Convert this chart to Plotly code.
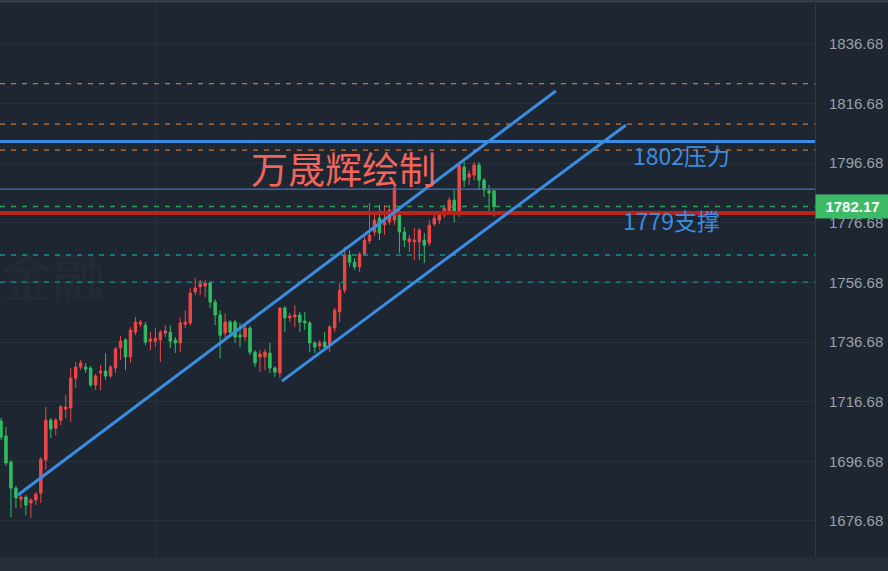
import plotly.graph_objects as go

# ---------------- data ----------------
bar_index = list(range(100))
opens = [1710.2,1705.2,1696.4,1687.7,1684.0,1684.7,1682.7,1683.7,1686.0,1697.1,
         1710.5,1707.8,1710.5,1714.2,1714.6,1724.6,1728.3,1728.3,1728.0,1722.3,
         1726.3,1727.0,1725.3,1728.0,1734.7,1737.4,1731.7,1740.0,1742.7,1742.4,
         1737.0,1737.0,1737.4,1739.7,1740.0,1737.4,1736.4,1742.7,1743.1,1753.5,
         1755.2,1755.5,1756.5,1750.1,1745.8,1739.7,1743.4,1743.4,1739.0,1738.4,
         1741.4,1733.3,1731.7,1731.7,1733.0,1728.0,1726.3,1748.1,1744.8,1745.1,
         1745.8,1743.7,1743.1,1736.4,1735.4,1736.7,1735.7,1741.4,1746.8,1754.1,
         1765.9,1763.5,1761.9,1766.2,1770.6,1773.6,1778.3,1776.0,1777.0,1777.6,
         1780.3,1773.6,1770.3,1770.3,1770.3,1770.9,1769.9,1776.3,1777.6,1779.3,
         1780.3,1784.3,1780.0,1795.4,1792.0,1792.7,1796.1,1791.0,1787.4,1787.4]
highs = [1711.2,1708.2,1697.1,1688.4,1685.4,1685.4,1684.4,1686.4,1698.1,1714.9,
         1711.2,1711.2,1715.6,1718.9,1728.0,1730.0,1730.7,1729.7,1728.6,1726.0,
         1729.0,1733.0,1729.0,1735.0,1738.8,1738.0,1741.7,1745.1,1744.1,1743.4,
         1740.0,1741.4,1740.7,1742.4,1742.4,1738.4,1744.8,1747.4,1754.8,1758.2,
         1757.5,1757.5,1757.2,1751.1,1747.4,1746.4,1744.1,1744.1,1743.1,1742.1,
         1742.1,1734.0,1734.0,1734.3,1736.4,1728.6,1748.4,1748.8,1746.4,1749.1,
         1746.8,1746.8,1743.7,1737.0,1737.4,1740.0,1742.4,1748.1,1756.5,1768.6,
         1767.6,1764.9,1766.9,1772.6,1783.3,1780.3,1782.7,1782.7,1782.7,1790.0,
         1781.0,1775.3,1772.6,1774.9,1774.9,1773.3,1777.6,1779.3,1780.3,1782.7,
         1785.3,1787.7,1797.1,1797.1,1794.4,1797.1,1797.1,1791.7,1789.4,1787.7]
lows = [1703.8,1695.1,1678.0,1681.0,1681.0,1678.6,1677.6,1682.0,1682.7,1693.8,
        1704.5,1705.5,1708.8,1711.2,1709.9,1721.3,1727.3,1726.3,1721.6,1720.6,
        1720.6,1724.0,1724.6,1726.3,1730.7,1727.3,1729.7,1739.0,1741.7,1735.7,
        1734.0,1735.0,1730.0,1738.4,1734.7,1733.0,1733.3,1741.4,1742.1,1752.5,
        1752.5,1751.8,1748.1,1742.4,1731.3,1738.4,1738.4,1736.4,1735.0,1737.0,
        1732.3,1728.3,1726.6,1727.3,1726.3,1725.0,1724.6,1740.0,1743.4,1741.7,
        1740.0,1740.7,1733.3,1733.0,1734.0,1734.0,1733.3,1740.0,1743.4,1753.1,
        1761.9,1760.9,1760.2,1765.5,1769.6,1772.3,1770.9,1772.6,1776.0,1776.0,
        1766.6,1768.6,1766.9,1764.2,1764.2,1763.2,1768.9,1775.6,1776.3,1778.3,
        1779.6,1776.9,1778.6,1788.7,1789.4,1791.0,1787.7,1785.3,1779.3,1778.9]
closes = [1704.8,1696.1,1687.7,1684.4,1684.7,1682.0,1683.7,1685.7,1697.4,1710.5,
          1707.5,1710.5,1715.0,1714.9,1724.6,1728.3,1729.7,1727.6,1722.3,1725.3,
          1727.0,1725.3,1728.3,1734.4,1737.0,1731.7,1740.7,1743.4,1743.4,1736.7,
          1737.7,1738.0,1740.0,1740.4,1737.0,1736.4,1743.1,1743.4,1753.1,1754.8,
          1756.2,1756.5,1750.1,1745.8,1739.0,1743.4,1740.0,1738.4,1738.4,1741.4,
          1733.3,1729.7,1732.7,1733.3,1728.0,1726.6,1748.1,1744.8,1745.4,1745.8,
          1743.4,1743.1,1736.4,1735.0,1736.4,1735.0,1741.7,1747.4,1754.1,1765.9,
          1763.5,1761.9,1766.2,1770.9,1772.6,1777.6,1773.3,1777.0,1781.0,1788.4,
          1773.6,1770.9,1771.3,1770.9,1774.3,1769.2,1775.9,1778.3,1779.3,1781.6,
          1784.3,1780.3,1796.1,1791.0,1793.1,1796.1,1791.0,1787.7,1786.7,1782.17]

last_price = 1782.17
tick_values = [1676.68, 1696.68, 1716.68, 1736.68, 1756.68, 1776.68, 1796.68, 1816.68, 1836.68]
tick_labels = ["1676.68", "1696.68", "1716.68", "1736.68", "1756.68",
               "1776.68", "1796.68", "1816.68", "1836.68"]

# horizontal levels (price)
orange_levels = [1823.4, 1809.8, 1801.1]
teal_levels = [1765.9, 1756.8]
resistance_level = 1804.0     # thick blue, "1802压力"
support_level = 1780.0        # thick red, "1779支撑"
thin_blue_level = 1788.0

# channel lines: (bar index, price) endpoints
channel_upper = [(3.4, 1685.4), (111.4, 1820.9)]
channel_lower = [(56.4, 1723.6), (125.5, 1809.5)]

BG = "#1e2632"
GRID = "#29313d"
RED = "#ef4646"
GREEN = "#30bd62"
BLUE = "#3a8ee2"

fig = go.Figure()
fig.add_trace(go.Candlestick(
    x=bar_index, open=opens, high=highs, low=lows, close=closes,
    increasing=dict(line=dict(color=RED, width=1), fillcolor=RED),
    decreasing=dict(line=dict(color=GREEN, width=1), fillcolor=GREEN),
    whiskerwidth=0, showlegend=False, hoverinfo="skip"))

shapes = []
for lv in orange_levels:
    shapes.append(dict(type="line", xref="paper", x0=0, x1=1, yref="y", y0=lv, y1=lv,
                       line=dict(color="#c8783a", width=1.2, dash="5px,6px")))
for lv in teal_levels:
    shapes.append(dict(type="line", xref="paper", x0=0, x1=1, yref="y", y0=lv, y1=lv,
                       line=dict(color="#17908c", width=1.3, dash="5px,6px")))
shapes.append(dict(type="line", xref="paper", x0=0, x1=1, yref="y", y0=last_price, y1=last_price,
                   line=dict(color="#2f9e5c", width=1.3, dash="5px,6px")))
shapes.append(dict(type="line", xref="paper", x0=0, x1=1, yref="y", y0=thin_blue_level, y1=thin_blue_level,
                   line=dict(color="#4671b0", width=1.2)))
shapes.append(dict(type="line", xref="paper", x0=0, x1=1, yref="y", y0=resistance_level, y1=resistance_level,
                   line=dict(color=BLUE, width=3)))
shapes.append(dict(type="line", xref="paper", x0=0, x1=1, yref="y", y0=support_level, y1=support_level,
                   line=dict(color="#b8231c", width=4)))
for (a, b) in (channel_upper, channel_lower):
    shapes.append(dict(type="line", xref="x", yref="y", x0=a[0], y0=a[1], x1=b[0], y1=b[1],
                       line=dict(color=BLUE, width=3)))
# bottom bar and top border
shapes.append(dict(type="rect", xref="paper", yref="paper", x0=-0.01, x1=1.1, y0=-0.03, y1=-0.0005,
                   fillcolor="#262e3a", line=dict(width=0), layer="above"))
shapes.append(dict(type="line", xref="paper", yref="paper", x0=-0.01, x1=1.1, y0=1.003, y1=1.003,
                   line=dict(color="#3a424e", width=2)))

annotations = [
    dict(text="万晟辉绘制", xref="paper", yref="paper", x=0.421, y=0.702, showarrow=False,
         xanchor="center", yanchor="middle",
         font=dict(family="Noto Sans CJK SC", size=37, color="#f0645a")),
    dict(text="1802压力", xref="paper", yref="paper", x=0.836, y=0.7256, showarrow=False,
         xanchor="center", yanchor="middle",
         font=dict(family="Noto Sans CJK SC", size=23, color=BLUE)),
    dict(text="1779支撑", xref="paper", yref="paper", x=0.824, y=0.6083, showarrow=False,
         xanchor="center", yanchor="middle",
         font=dict(family="Noto Sans CJK SC", size=23, color=BLUE)),
    dict(text="金融", xref="paper", yref="paper", x=0.065, y=0.51, showarrow=False,
         xanchor="center", yanchor="middle",
         font=dict(family="Noto Sans CJK SC", size=52, color="rgba(255,255,255,0.022)")),
    dict(text="<b>" + f"{last_price:.2f}" + "</b>", xref="paper", yref="y", x=1.0, y=last_price,
         xanchor="left", yanchor="middle", showarrow=False, bgcolor="#3cba66", width=69, height=19,
         font=dict(family="Liberation Sans", size=15, color="white"), borderpad=2),
]

fig.update_layout(
    width=888, height=571,
    margin=dict(l=0, r=73, t=3, b=14),
    paper_bgcolor=BG, plot_bgcolor=BG,
    shapes=shapes, annotations=annotations,
    xaxis=dict(range=[-0.2, 163.45], rangeslider=dict(visible=False), showticklabels=False,
               tickvals=[31.1], showgrid=True, gridcolor=GRID, gridwidth=1, zeroline=False,
               showline=False, fixedrange=True),
    yaxis=dict(side="right", range=[1664.59, 1850.43], tickvals=tick_values, ticktext=tick_labels,
               showgrid=True, gridcolor=GRID, gridwidth=1, zeroline=False,
               showline=True, linecolor="#323a46", linewidth=1, ticks="",
               ticklabelstandoff=10,
               tickfont=dict(family="Liberation Sans", size=15, color="#9ba1aa"), fixedrange=True),
    boxgap=0.3,
)

fig.write_html("out.html", config={"displayModeBar": False},
               post_script="document.body.style.margin='0';document.body.style.overflow='hidden';")
